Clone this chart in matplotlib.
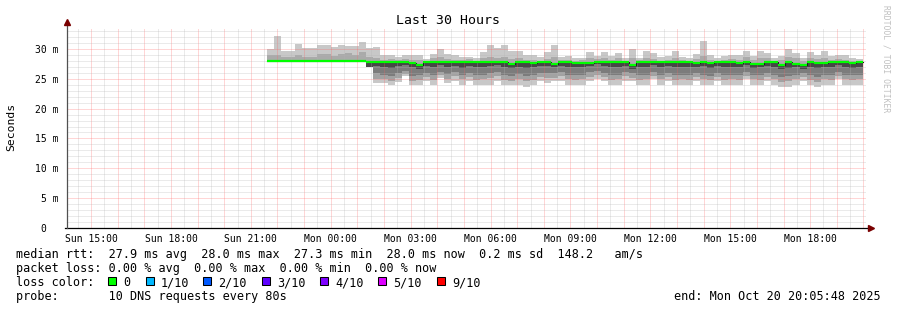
import numpy as np
import matplotlib
matplotlib.use("Agg")
import matplotlib.pyplot as plt
import matplotlib.dates as mdates
from matplotlib.ticker import MultipleLocator, FuncFormatter
from matplotlib.patches import Rectangle

plt.rcParams["font.family"] = "DejaVu Sans Mono"

W, H = 897, 310

# graph window
t_start = np.datetime64("2025-10-19T14:05:48")
t_end = np.datetime64("2025-10-20T20:05:48")

# rra bins: 16 minutes each, first one at 21:36
first_bin = np.datetime64("2025-10-19T21:36")
bin_minutes = 16

# median rtt per bin (ms)
median = [
    27.9, 27.9, 27.9, 27.9, 27.9, 27.9, 27.9, 27.9, 27.9, 27.9, 27.9, 27.9,
    27.9, 27.9, 27.85, 27.85, 27.85, 27.85, 27.85, 27.85, 27.65, 27.3, 27.85, 27.85,
    27.85, 27.85, 27.85, 27.85, 27.85, 27.85, 27.85, 27.85, 27.85, 27.85, 27.55, 27.85,
    27.85, 27.6, 27.85, 27.85, 27.55, 27.85, 27.85, 27.6, 27.7, 27.7, 27.85, 27.85,
    27.85, 27.85, 27.85, 27.3, 27.85, 27.85, 27.85, 27.75, 27.75, 27.85, 27.85, 27.85,
    27.6, 27.85, 27.6, 27.85, 27.85, 27.85, 27.6, 27.85, 27.5, 27.45, 27.85, 27.85,
    27.3, 27.85, 27.55, 27.35, 27.85, 27.6, 27.6, 27.85, 27.85, 27.85, 27.6, 27.85,
]
# slowest ping per bin
hi = [
    30.0, 32.2, 29.6, 29.6, 30.9, 30.2, 30.2, 30.7, 30.7, 30.3, 30.7, 30.5,
    30.5, 31.1, 30.2, 30.4, 29.0, 29.0, 28.6, 29.0, 28.9, 28.9, 28.3, 29.2,
    29.9, 29.2, 28.9, 28.7, 28.7, 28.4, 29.5, 30.7, 30.2, 30.7, 29.6, 29.6,
    28.9, 28.9, 28.7, 29.4, 30.7, 28.7, 28.8, 28.5, 28.5, 29.5, 28.8, 29.5,
    28.8, 29.3, 28.5, 30.0, 28.5, 29.7, 29.3, 28.6, 28.8, 29.6, 28.6, 28.4,
    29.1, 31.3, 29.0, 28.4, 28.8, 28.9, 28.9, 29.6, 28.8, 29.6, 29.3, 28.5,
    28.8, 29.9, 29.3, 28.5, 29.4, 29.0, 29.6, 28.8, 29.0, 29.0, 28.5, 28.3,
]
# upper inner ping
hi2 = [
    28.9, 28.9, 28.7, 28.7, 28.9, 28.7, 28.7, 29.1, 29.1, 28.8, 29.1, 29.3,
    28.9, 29.4, 28.6, 28.4, 28.2, 28.3, 28.1, 28.3, 28.2, 28.2, 28.0, 28.4,
    28.6, 28.3, 28.2, 28.1, 28.3, 28.0, 28.5, 28.7, 28.4, 28.6, 28.3, 28.4,
    28.2, 28.1, 28.0, 28.3, 28.6, 28.1, 28.2, 28.0, 28.1, 28.5, 28.3, 28.4,
    28.2, 28.4, 28.0, 28.5, 28.1, 28.4, 28.3, 28.0, 28.2, 28.5, 28.1, 28.0,
    28.3, 28.8, 28.2, 28.0, 28.2, 28.3, 28.2, 28.6, 28.1, 28.4, 28.5, 28.0,
    28.2, 28.6, 28.4, 28.0, 28.5, 28.3, 28.5, 28.1, 28.3, 28.2, 28.0, 28.0,
]
# fastest ping per bin
lo = [
    27.9, 27.9, 27.9, 27.9, 27.9, 27.9, 27.9, 27.9, 27.9, 27.9, 27.9, 27.9,
    27.9, 27.9, 27.0, 24.25, 24.25, 23.95, 24.5, 25.4, 23.95, 23.95, 24.6, 24.0,
    25.1, 24.3, 24.6, 24.0, 24.6, 24.0, 24.0, 24.0, 24.6, 24.0, 24.0, 24.0,
    23.7, 24.0, 24.6, 24.3, 24.6, 24.6, 24.0, 24.0, 24.0, 24.6, 24.9, 24.6,
    24.0, 24.0, 24.6, 24.6, 24.0, 24.0, 24.9, 24.0, 24.6, 24.0, 24.0, 24.0,
    24.6, 24.0, 24.0, 24.6, 24.0, 24.0, 24.0, 24.9, 24.0, 24.0, 24.6, 24.0,
    23.7, 23.6, 24.0, 24.6, 24.0, 23.6, 24.0, 24.0, 24.9, 24.0, 24.0, 24.0,
]
lo2 = [
    27.9, 27.9, 27.9, 27.9, 27.9, 27.9, 27.9, 27.9, 27.9, 27.9, 27.9, 27.9,
    27.9, 27.9, 27.0, 25.0, 24.9, 24.6, 25.2, 25.8, 24.7, 24.8, 25.3, 24.8,
    25.6, 25.0, 25.4, 24.9, 25.3, 24.8, 24.9, 25.1, 25.4, 24.8, 24.7, 24.9,
    24.6, 24.8, 25.3, 25.1, 25.2, 25.4, 24.9, 24.8, 24.9, 25.3, 25.6, 25.3,
    24.8, 24.9, 25.4, 25.2, 24.8, 24.9, 25.5, 24.9, 25.3, 24.8, 24.9, 24.8,
    25.3, 24.9, 24.8, 25.3, 24.8, 24.9, 24.8, 25.5, 24.9, 24.8, 25.3, 24.9,
    24.5, 24.6, 24.9, 25.3, 24.8, 24.5, 24.9, 24.8, 25.5, 24.9, 24.8, 24.9,
]
lo3 = [
    27.9, 27.9, 27.9, 27.9, 27.9, 27.9, 27.9, 27.9, 27.9, 27.9, 27.9, 27.9,
    27.9, 27.9, 27.0, 25.9, 25.6, 25.4, 25.9, 26.3, 25.5, 25.6, 26.0, 25.6,
    26.2, 25.8, 26.1, 25.7, 26.0, 25.6, 25.7, 25.9, 26.2, 25.6, 25.5, 25.8,
    25.4, 25.6, 26.0, 25.9, 26.0, 26.1, 25.7, 25.6, 25.7, 26.1, 26.3, 26.0,
    25.6, 25.7, 26.1, 25.9, 25.6, 25.7, 26.2, 25.7, 26.0, 25.6, 25.7, 25.6,
    26.0, 25.7, 25.5, 26.0, 25.6, 25.7, 25.6, 26.2, 25.7, 25.6, 26.0, 25.7,
    25.3, 25.4, 25.7, 26.0, 25.6, 25.3, 25.7, 25.6, 26.2, 25.7, 25.6, 25.7,
]
dk = [
    27.9, 27.9, 27.9, 27.9, 27.9, 27.9, 27.9, 27.9, 27.9, 27.9, 27.9, 27.9,
    27.9, 27.9, 27.0, 27.2, 27.0, 26.8, 27.1, 27.3, 26.9, 26.7, 27.2, 26.9,
    27.3, 27.0, 27.2, 26.8, 27.1, 26.9, 27.0, 27.2, 27.3, 26.9, 26.8, 27.0,
    26.8, 26.9, 27.2, 27.1, 26.9, 27.2, 27.0, 26.9, 27.0, 27.2, 27.4, 27.1,
    26.9, 27.0, 27.2, 26.7, 26.9, 27.0, 27.3, 27.0, 27.1, 26.9, 27.0, 26.9,
    27.0, 27.1, 26.8, 27.2, 26.9, 27.0, 26.9, 27.3, 26.8, 26.9, 27.2, 27.0,
    26.6, 26.8, 26.9, 26.7, 27.0, 26.8, 27.0, 26.9, 27.3, 27.0, 26.8, 27.0,
]

title = "Last 30 Hours"
ylabel = "Seconds"
stats_rtt = "median rtt:  27.9 ms avg  28.0 ms max  27.3 ms min  28.0 ms now  0.2 ms sd  148.2   am/s"
stats_loss = "packet loss: 0.00 % avg  0.00 % max  0.00 % min  0.00 % now"
probe_line = "probe:       10 DNS requests every 80s"
end_line = "end: Mon Oct 20 20:05:48 2025"
loss_labels = ["0", "1/10", "2/10", "3/10", "4/10", "5/10", "9/10"]
loss_colors = ["#00ff00", "#00b8ff", "#0059ff", "#5e00ff", "#7e00ff", "#dd00ff", "#ff0000"]

bins = first_bin + np.arange(len(median) + 1) * np.timedelta64(bin_minutes, "m")
x = mdates.date2num(bins)


def ext(a):
    return np.append(a, a[-1])


def px(xp, yp):
    return xp / W, 1 - yp / H


fig = plt.figure(figsize=(W / 100, H / 100), dpi=100)
fig.patch.set_facecolor("white")
ax = fig.add_axes([67 / W, 1 - 228 / H, 799 / W, 200 / H])

# smoke
bands = [(lo, lo2, "#c8c8c8"), (lo2, lo3, "#a2a2a2"), (lo3, dk, "#7c7c7c"),
         (dk, median, "#474747"), (median, hi2, "#aaaaaa"), (hi2, hi, "#c8c8c8")]
for a, b, c in bands:
    ax.fill_between(x, ext(a), ext(b), step="post", color=c, lw=0, zorder=1)

# median line
ax.step(x, ext(median), where="post", color="#1a1a1a", lw=0.8, zorder=3)
ax.hlines(median, x[:-1], x[1:], color="#00ff00", lw=1.6, zorder=4)

ax.set_xlim(mdates.date2num(t_start), mdates.date2num(t_end))
ax.set_ylim(0, 33.5)

ax.xaxis.set_major_locator(mdates.HourLocator())
ax.xaxis.set_minor_locator(mdates.MinuteLocator(byminute=[30]))


def xfmt(v, pos):
    d = mdates.num2date(v + 1e-6)
    return d.strftime("%a %H:%M") if d.hour % 3 == 0 else ""


ax.xaxis.set_major_formatter(FuncFormatter(xfmt))
ax.yaxis.set_major_locator(MultipleLocator(5))
ax.yaxis.set_minor_locator(MultipleLocator(1))
ax.yaxis.set_major_formatter(FuncFormatter(lambda v, p: "0  " if v == 0 else "%d m" % v))

ax.set_axisbelow(False)
ax.grid(which="major", color="#ff5f5f", alpha=0.5, lw=0.72, ls=(0, (1, 1)))
ax.grid(which="minor", color="#b4b4b4", alpha=0.55, lw=0.72, ls=(0, (1, 1)))
ax.tick_params(which="both", length=0, labelsize=7)
ax.tick_params(axis="x", pad=4)
ax.tick_params(axis="y", pad=6)
for s in ax.spines.values():
    s.set_visible(False)

# axes with arrows
ax.plot([-2 / 799, 1 + 3 / 799], [0, 0], transform=ax.transAxes, color="black",
        lw=0.9, clip_on=False, zorder=5)
ax.plot([0, 0], [0, 1 + 3 / 200], transform=ax.transAxes, color="#505050",
        lw=0.9, clip_on=False, zorder=5)
ax.plot([0], [1 + 6 / 200], marker="^", ms=4.5, color="#7a0000",
        transform=ax.transAxes, clip_on=False, zorder=6)
ax.plot([1 + 5 / 799], [0], marker=">", ms=4.5, color="#7a0000",
        transform=ax.transAxes, clip_on=False, zorder=6)

fig.text(*px(448, 24), title, ha="center", va="baseline", fontsize=9.5)
fig.text(*px(11, 127), ylabel, ha="center", va="center", rotation=90, fontsize=8.2)
fig.text(*px(886, 59), "RRDTOOL / TOBI OETIKER", ha="center", va="center",
         rotation=270, fontsize=5.8, color="#c0c0c0")

fig.text(*px(16, 258), stats_rtt, ha="left", va="baseline", fontsize=8.5)
fig.text(*px(16, 272), stats_loss, ha="left", va="baseline", fontsize=8.5)
fig.text(*px(16, 286), "loss color:", ha="left", va="baseline", fontsize=8.5)
fig.text(*px(16, 300), probe_line, ha="left", va="baseline", fontsize=8.5)
fig.text(*px(881, 300), end_line, ha="right", va="baseline", fontsize=8.5)

sq_x = [108, 146, 203, 262, 320, 378, 437]
for sx, lab, col in zip(sq_x, loss_labels, loss_colors):
    fig.patches.append(Rectangle(px(sx, 285), 8 / W, 8 / H, transform=fig.transFigure,
                                 facecolor=col, edgecolor="black", lw=0.75))
    fig.text(*px(sx + 15, 286), lab, ha="left", va="baseline", fontsize=8.5)

fig.savefig("out.png", dpi=100)
